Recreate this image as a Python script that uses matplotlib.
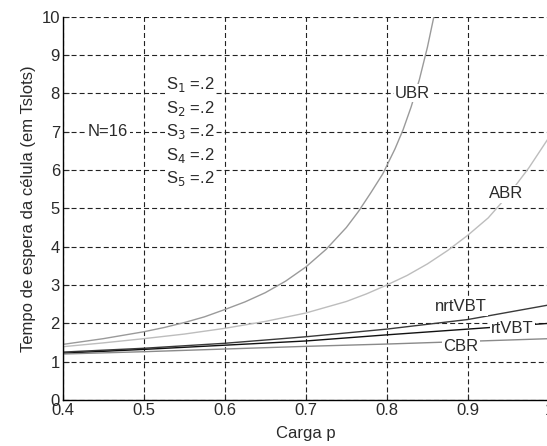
import matplotlib
matplotlib.use("Agg")
import matplotlib.pyplot as plt

plt.rcParams['font.family'] = ['Liberation Sans', 'DejaVu Sans']
plt.rcParams['lines.scale_dashes'] = False

# Data
ubr_x = [0.40, 0.45, 0.50, 0.525, 0.55, 0.575, 0.60, 0.625, 0.65, 0.675, 0.70, 0.725,
         0.75, 0.765, 0.78, 0.795, 0.81, 0.82, 0.83, 0.84, 0.85, 0.86, 0.865]
ubr_y = [1.45, 1.60, 1.78, 1.89, 2.02, 2.17, 2.36, 2.56, 2.80, 3.10, 3.47, 3.93,
         4.50, 4.92, 5.40, 5.90, 6.55, 7.05, 7.65, 8.35, 9.20, 10.2, 10.8]
abr_x = [0.40, 0.45, 0.50, 0.55, 0.60, 0.65, 0.70, 0.75, 0.775, 0.80, 0.825, 0.85,
         0.875, 0.90, 0.925, 0.95, 0.975, 1.00]
abr_y = [1.39, 1.49, 1.60, 1.72, 1.87, 2.05, 2.27, 2.57, 2.77, 3.00, 3.25, 3.55,
         3.90, 4.30, 4.75, 5.35, 6.05, 6.85]
vbt_x = [0.40, 0.50, 0.60, 0.70, 0.80, 0.90, 1.00]
nrtvbt_y = [1.25, 1.35, 1.48, 1.65, 1.85, 2.10, 2.48]
rtvbt_y = [1.22, 1.32, 1.43, 1.54, 1.70, 1.85, 2.00]
cbr_y = [1.20, 1.26, 1.33, 1.40, 1.46, 1.53, 1.60]

xticks = [0.4, 0.5, 0.6, 0.7, 0.8, 0.9, 1.0]
xtick_labels = ['0.4', '0.5', '0.6', '0.7', '0.8', '0.9', '1']
yticks = list(range(0, 11))
s_text = "S$_1$ =.2\nS$_2$ =.2\nS$_3$ =.2\nS$_4$ =.2\nS$_5$ =.2"

FS = 12
TC = '#2a2a2a'

fig = plt.figure(figsize=(5.47, 4.46), dpi=100)
ax = fig.add_axes([0.1146, 0.1031, 0.889, 0.8596])

ax.plot(ubr_x, ubr_y, color='#9a9a9a', lw=1.0)
ax.plot(abr_x, abr_y, color='#bdbdbd', lw=1.0)
ax.plot(vbt_x, nrtvbt_y, color='#3a3a3a', lw=1.0)
ax.plot(vbt_x, rtvbt_y, color='#111111', lw=1.0)
ax.plot(vbt_x, cbr_y, color='#8a8a8a', lw=1.0)

ax.set_xlim(0.4, 1.0)
ax.set_ylim(0, 10)
ax.set_xticks(xticks)
ax.set_xticklabels(xtick_labels)
ax.set_yticks(yticks)
ax.tick_params(direction='in', length=4, labelsize=FS, colors=TC, pad=2)
ax.grid(True, color='#222222', linestyle=(0, (3.6, 2.2)), lw=0.8)
for s in ['top', 'right']:
    ax.spines[s].set_visible(False)
for s in ['left', 'bottom']:
    ax.spines[s].set_color('black')
    ax.spines[s].set_linewidth(1.0)

ax.set_xlabel('Carga p', fontsize=FS, color=TC, labelpad=6)
ax.set_ylabel('Tempo de espera da célula (em Tslots)', fontsize=FS, color=TC, labelpad=4)

bb = dict(facecolor='white', edgecolor='none', pad=1.0)
tkw = dict(fontsize=FS, color=TC, ha='center', va='center', bbox=bb, zorder=5)
ax.text(0.832, 8.0, 'UBR', **tkw)
ax.text(0.947, 5.38, 'ABR', **tkw)
ax.text(0.891, 2.43, 'nrtVBT', **tkw)
ax.text(0.955, 1.87, 'rtVBT', **tkw)
ax.text(0.891, 1.39, 'CBR', **tkw)
ax.text(0.456, 7.0, 'N=16', **tkw)
ax.text(0.528, 7.0, s_text, fontsize=FS, color=TC, ha='left', va='center',
        linespacing=1.33, bbox=bb, zorder=5)

fig.savefig('out.png', dpi=100)
